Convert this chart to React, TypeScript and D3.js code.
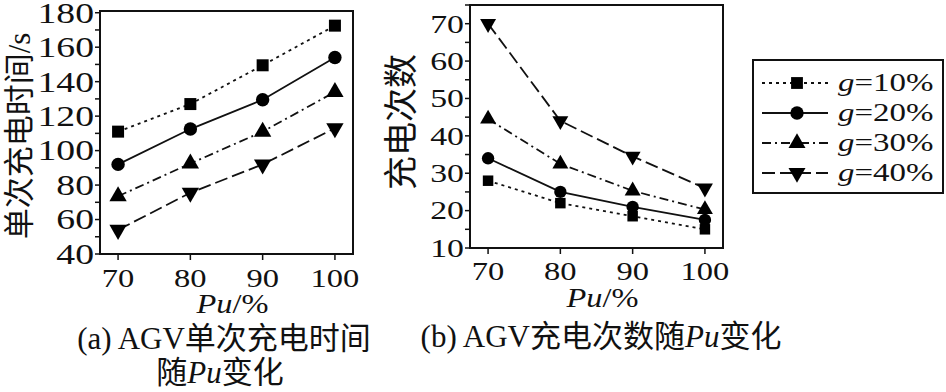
import React, { useRef, useEffect } from 'react';
import * as d3 from 'd3';

// x categories (Pu, %)
const puLevels = [70, 80, 90, 100];
const seriesNames = ['10%', '20%', '30%', '40%'];

// (a) single charging time, s
const timeG10 = [111, 127, 149.5, 172.5];
const timeG20 = [92, 112.5, 129.5, 154];
const timeG30 = [73.5, 92.5, 111, 134];
const timeG40 = [54, 75.5, 92, 113];

// (b) charging count
const countG10 = [28, 22, 18.5, 15];
const countG20 = [34, 25, 21, 17.5];
const countG30 = [44.5, 32.5, 25.3, 20.3];
const countG40 = [70, 44, 34.5, 26];

const timeTickLabels = [40, 60, 80, 100, 120, 140, 160, 180];
const countTickLabels = [10, 20, 30, 40, 50, 60, 70];

const dashes = ['3,4', null, '9,4,2,4', '13,5'];
const symbols = [d3.symbolSquare, d3.symbolCircle, d3.symbolTriangle, d3.symbolTriangle];
const flips = [false, false, false, true];

const SERIF = '"Liberation Serif", serif';
const CJK_FONT = '"Liberation Serif", "Noto Sans CJK SC", sans-serif';

type Sel = d3.Selection<any, any, any, any>;

// text widened horizontally like the scanned figure
const wideText = (parent: Sel, x: number, y: number, size: number, sx: number, anchor = 'start') =>
  parent.append('text')
    .attr('transform', `translate(${x},${y}) scale(${sx},1)`)
    .attr('text-anchor', anchor)
    .style('font-family', SERIF).style('font-size', `${size}px`)
    .attr('fill', '#111');

const App: React.FC = () => {
  const svgRef = useRef<SVGSVGElement>(null);

  useEffect(() => {
    if (!svgRef.current) return;
    const svg = d3.select(svgRef.current);
    svg.selectAll('*').remove();

    const drawPanel = (opts: {
      left: number; right: number; top: number; bottom: number;
      yDomain: [number, number]; yTicks: number[]; yMinorStep: number;
      series: number[][]; sizes: number[]; yFont: number; ySx: number;
      yTitle: string; yTitleX: number; yTitleY: number; yTitleSize: number;
      xTitleY: number; xLabY: number;
    }) => {
      const x = d3.scaleLinear().domain([67.5, 102.5]).range([opts.left, opts.right]);
      const y = d3.scaleLinear().domain(opts.yDomain).range([opts.bottom, opts.top]);
      const g = svg.append('g');

      // frame
      g.append('rect')
        .attr('x', opts.left).attr('y', opts.top)
        .attr('width', opts.right - opts.left).attr('height', opts.bottom - opts.top)
        .attr('fill', 'none').attr('stroke', '#111').attr('stroke-width', 2);

      // y ticks (outward), minor every step
      const minor = d3.range(opts.yDomain[0], opts.yDomain[1] + 0.01, opts.yMinorStep);
      g.selectAll('.ytick').data(minor).enter().append('line')
        .attr('x1', opts.left - 5).attr('x2', opts.left)
        .attr('y1', d => y(d)).attr('y2', d => y(d))
        .attr('stroke', '#111').attr('stroke-width', 1.5);
      opts.yTicks.forEach(v => {
        wideText(g, opts.left - 6, y(v) + opts.yFont * 0.34, opts.yFont, opts.ySx, 'end').text(v);
      });

      // x ticks
      g.selectAll('.xtick').data(puLevels).enter().append('line')
        .attr('x1', d => x(d)).attr('x2', d => x(d))
        .attr('y1', opts.bottom).attr('y2', opts.bottom + 6)
        .attr('stroke', '#111').attr('stroke-width', 1.5);
      puLevels.forEach(p => {
        wideText(g, x(p), opts.xLabY, 25, 1.3, 'middle').text(p);
      });

      // axis titles
      g.append('text')
        .attr('transform', `translate(${opts.yTitleX},${opts.yTitleY}) rotate(-90)`)
        .attr('text-anchor', 'middle').attr('dy', '0.36em')
        .style('font-family', CJK_FONT).style('font-size', `${opts.yTitleSize}px`)
        .attr('fill', '#111').text(opts.yTitle);
      const xt = wideText(g, (opts.left + opts.right) / 2 + 6, opts.xTitleY, 27, 1.2, 'middle');
      xt.append('tspan').style('font-style', 'italic').text('Pu');
      xt.append('tspan').text('/%');

      // series
      const line = d3.line<[number, number]>().x(d => x(d[0])).y(d => y(d[1]));
      opts.series.forEach((vals, i) => {
        const pts = puLevels.map((p, k) => [p, vals[k]] as [number, number]);
        g.append('path').datum(pts)
          .attr('d', line).attr('fill', 'none')
          .attr('stroke', '#111').attr('stroke-width', 1.8)
          .attr('stroke-dasharray', dashes[i]);
        g.selectAll(`.m${i}`).data(pts).enter().append('path')
          .attr('d', d3.symbol().type(symbols[i]).size(opts.sizes[i]))
          .attr('transform', d => `translate(${x(d[0])},${y(d[1])})${flips[i] ? ' rotate(180)' : ''}`)
          .attr('fill', '#000');
      });
    };

    drawPanel({
      left: 100, right: 353, top: 11, bottom: 254,
      yDomain: [40, 181], yTicks: timeTickLabels, yMinorStep: 10,
      series: [timeG10, timeG20, timeG30, timeG40], sizes: [144, 141, 130, 130],
      yFont: 29, ySx: 1.3, yTitle: '单次充电时间/s', yTitleX: 19, yTitleY: 136, yTitleSize: 31,
      xTitleY: 313, xLabY: 287,
    });

    drawPanel({
      left: 470, right: 723, top: 5, bottom: 248,
      yDomain: [10, 75], yTicks: countTickLabels, yMinorStep: 5,
      series: [countG10, countG20, countG30, countG40], sizes: [110, 120, 110, 110],
      yFont: 26, ySx: 1.3, yTitle: '充电次数', yTitleX: 401, yTitleY: 122, yTitleSize: 34,
      xTitleY: 307, xLabY: 280,
    });

    // legend
    const lg = svg.append('g');
    lg.append('rect').attr('x', 753).attr('y', 60).attr('width', 190).attr('height', 133)
      .attr('fill', 'none').attr('stroke', '#111').attr('stroke-width', 2);
    const rowY = d3.scaleLinear().domain([0, 3]).range([83, 173]);
    seriesNames.forEach((name, i) => {
      const cy = rowY(i);
      lg.append('line').attr('x1', 762).attr('x2', 828).attr('y1', cy).attr('y2', cy)
        .attr('stroke', '#111').attr('stroke-width', 1.8)
        .attr('stroke-dasharray', dashes[i]);
      lg.append('path')
        .attr('d', d3.symbol().type(symbols[i]).size(i >= 2 ? 125 : 140))
        .attr('transform', `translate(797,${cy})${flips[i] ? ' rotate(180)' : ''}`)
        .attr('fill', '#000');
      const t = wideText(lg, 838, cy + 8, 25, 1.32);
      t.append('tspan').style('font-style', 'italic').text('g');
      t.append('tspan').text('=' + name);
    });

    // captions
    const capStyle = (t: Sel) =>
      t.attr('text-anchor', 'middle')
        .style('font-family', CJK_FONT).style('font-size', '31px').attr('fill', '#111');
    capStyle(svg.append('text').attr('x', 224).attr('y', 349)).text('(a) AGV单次充电时间');
    const capA2 = capStyle(svg.append('text').attr('x', 220).attr('y', 383));
    capA2.append('tspan').text('随');
    capA2.append('tspan').style('font-style', 'italic').text('Pu');
    capA2.append('tspan').text('变化');
    const capB = capStyle(svg.append('text').attr('x', 601).attr('y', 347));
    capB.append('tspan').text('(b) AGV充电次数随');
    capB.append('tspan').style('font-style', 'italic').text('Pu');
    capB.append('tspan').text('变化');
  }, []);

  return (
    <svg
      ref={svgRef}
      width={946}
      height={392}
      style={{ position: 'absolute', left: 0, top: 0, background: '#fff' }}
    />
  );
};

export default App;
